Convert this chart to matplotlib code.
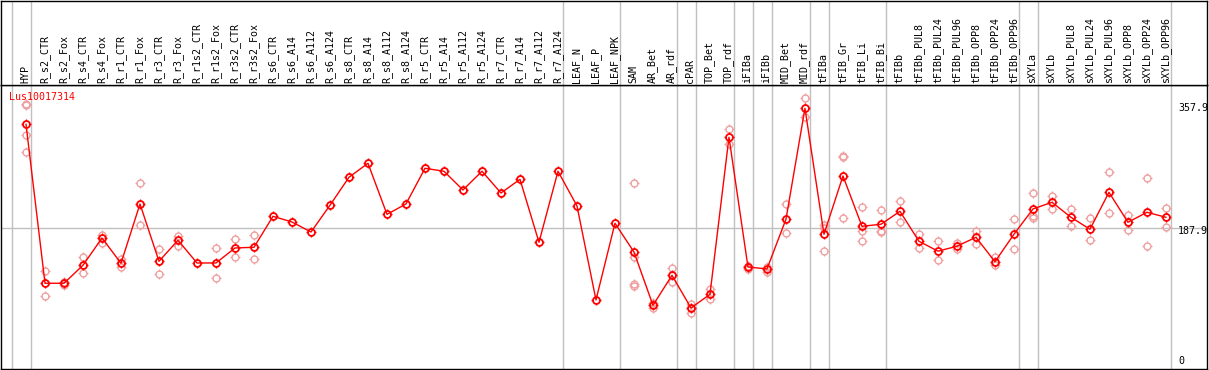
import matplotlib
matplotlib.use("Agg")
import matplotlib.pyplot as plt
from matplotlib.path import Path
import numpy as np

categories = ["HYP", "R_s2_CTR", "R_s2_Fox", "R_s4_CTR", "R_s4_Fox", "R_r1_CTR", "R_r1_Fox",
              "R_r3_CTR", "R_r3_Fox", "R_r1s2_CTR", "R_r1s2_Fox", "R_r3s2_CTR", "R_r3s2_Fox",
              "R_s6_CTR", "R_s6_A14", "R_s6_A112", "R_s6_A124", "R_s8_CTR", "R_s8_A14",
              "R_s8_A112", "R_s8_A124", "R_r5_CTR", "R_r5_A14", "R_r5_A112", "R_r5_A124",
              "R_r7_CTR", "R_r7_A14", "R_r7_A112", "R_r7_A124", "LEAF_N", "LEAF_P", "LEAF_NPK",
              "SAM", "AR_Bet", "AR_rdf", "cPAR", "TOP_Bet", "TOP_rdf", "iFIBa", "iFIBb",
              "MID_Bet", "MID_rdf", "tFIBa", "tFIB_Gr", "tFIB_Li", "tFIB_Bi", "tFIBb",
              "tFIBb_PUL8", "tFIBb_PUL24", "tFIBb_PUL96", "tFIBb_OPP8", "tFIBb_OPP24",
              "tFIBb_OPP96", "sXYLa", "sXYLb", "sXYLb_PUL8", "sXYLb_PUL24", "sXYLb_PUL96",
              "sXYLb_OPP8", "sXYLb_OPP24", "sXYLb_OPP96"]

means = [335.2, 109.4, 109.4, 135.0, 173.7, 137.8, 222.0, 140.6, 170.5, 138.2, 138.2, 159.5,
         160.5, 204.5, 196.4, 182.2, 220.2, 260.0, 279.8, 207.3, 222.0, 272.7, 268.5, 241.9,
         268.5, 237.6, 257.0, 167.6, 268.5, 219.2, 85.7, 194.6, 153.8, 78.1, 120.7, 74.3,
         93.7, 316.8, 132.5, 129.7, 200.3, 357.9, 179.0, 261.8, 190.3, 193.2, 211.6, 169.0,
         155.0, 162.0, 174.7, 140.0, 179.0, 214.9, 224.4, 203.1, 186.1, 238.6, 196.0, 210.2,
         203.1]

replicates = [
    [364, 362, 320, 296], [126.8, 91.3], [111, 107], [146.7, 123.6], [178.4, 167],
    [143.9, 132.5], [251.8, 191.8], [158.1, 122.2], [176.1, 162.4], [], [159.5, 116.9],
    [172.3, 146.3], [177.6, 143.9], [], [], [], [], [], [], [], [], [], [], [], [], [], [],
    [], [], [], [], [],
    [251.4, 146.3, 108, 105], [81, 73.9], [131.1, 110.8], [80.4, 67.2], [101.7, 86.6],
    [328.1, 306.8], [134.5, 129], [132, 126], [222, 180.4], [372.2, 345.2],
    [192.2, 188, 154.5], [290.5, 289, 201.7], [217.3, 184.1, 169], [213, 184, 182],
    [226, 196], [179.4, 159], [169, 142], [166, 158], [183.7, 165.8], [146.7, 135.4],
    [200.3, 157.7], [237.6, 205.3, 201.7], [233.4, 215.3], [214.5, 190.3], [201.7, 170.5],
    [266.9, 209], [205.9, 184.6], [258.5, 162], [216.3, 188.9]]

group_ends = [-1, 0, 28, 31, 34, 35, 37, 38, 39, 41, 42, 45, 52, 53, 60]
tick_values = [357.9, 187.9, 0]
tick_labels = ["357.9", "187.9", "0"]
title = "Lus10017314"

W, H = 1209, 370
fig = plt.figure(figsize=(W / 100, H / 100), dpi=100)
font = "DejaVu Sans Mono"
fs = 7.2

# tick marks around the circle markers
verts, codes = [], []
for dx, dy in [(1, 0), (-1, 0), (0, 1), (0, -1)]:
    verts += [(dx * 1.0, dy * 1.0), (dx * 1.4, dy * 1.4)]
    codes += [Path.MOVETO, Path.LINETO]
tick_path = Path(verts, codes)

px_l, px_r = 1, 1207
top_y, bot_y = 85, 369
ax = fig.add_axes([px_l / W, (H - bot_y) / H, (px_r - px_l) / W, (bot_y - top_y) / H])
hx = fig.add_axes([px_l / W, (H - top_y) / H, (px_r - px_l) / W, top_y / H - 0.5 / H])

x = np.arange(len(categories))
xlim = (-1.316, 62.16)
for a in (ax, hx):
    a.set_xlim(*xlim)
    a.set_xticks([])
    a.set_yticks([])
    for s in a.spines.values():
        s.set_linewidth(1.0)
        s.set_color("black")
    for g in group_ends:
        a.axvline(g + 0.25, color="#c0c0c0", lw=1.0, zorder=0)

ax.set_ylim(-12.4, 391.0)
hx.set_ylim(0, 1)
ax.axhline(187.9, color="#c0c0c0", lw=1.0, zorder=0)

circ_ms = 5.0
tick_ms = circ_ms * 1.4

# replicates
rx, ry = [], []
for i, r in enumerate(replicates):
    for v in r:
        rx.append(i)
        ry.append(v)
pale = "#f0a0a0"
ax.plot(rx, ry, linestyle="none", marker="o", markersize=circ_ms, markerfacecolor="none",
        markeredgecolor=pale, markeredgewidth=1.0, zorder=2)
ax.plot(rx, ry, linestyle="none", marker=tick_path, markersize=tick_ms,
        markeredgecolor=pale, markeredgewidth=0.9, zorder=2)

ax.plot(x, means, color="#ff0000", lw=1.0, zorder=3)
ax.plot(x, means, linestyle="none", marker="o", markersize=circ_ms, markerfacecolor="none",
        markeredgecolor="#ff0000", markeredgewidth=1.3, zorder=4)
ax.plot(x, means, linestyle="none", marker=tick_path, markersize=tick_ms,
        markeredgecolor="#ff0000", markeredgewidth=1.0, zorder=4)

# header labels
for i, c in enumerate(categories):
    hx.text(i - 0.03, 2 / 85, c, rotation=90, ha="center", va="bottom", fontsize=fs,
            family=font, color="black")

fig.text(9 / W, 1 - 97 / H, title, color="#ff0000", fontsize=fs, family=font,
         ha="left", va="center")

offs = {"357.9": 0.0, "187.9": -3.5, "0": -1.0}
for v, t in zip(tick_values, tick_labels):
    ax.annotate(t, xy=(1178 / W, v), xycoords=("figure fraction", "data"),
                xytext=(0, offs[t] * 0.72), textcoords="offset points",
                ha="left", va="center", fontsize=fs, family=font, color="black",
                annotation_clip=False, clip_on=True)

fig.savefig("out.png", dpi=100)
